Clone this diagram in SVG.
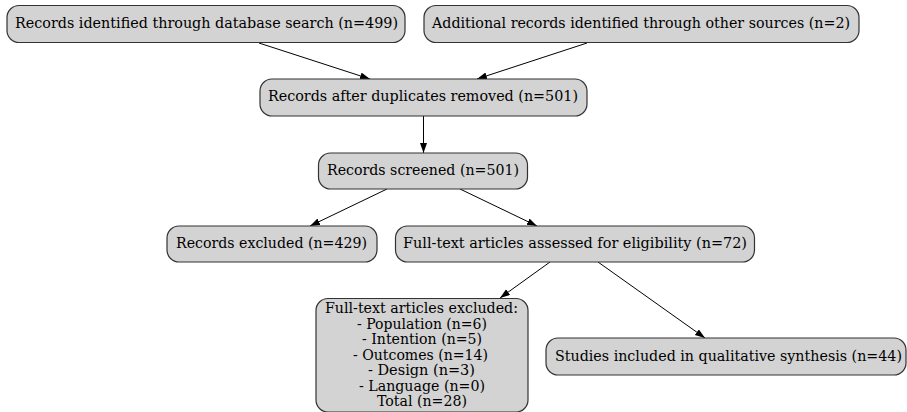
<svg xmlns="http://www.w3.org/2000/svg" width="907" height="412" viewBox="0 0 907 412">
<style>
.box{fill:#d3d3d3;stroke:#333;stroke-width:1.2}
.t{font-family:"DejaVu Serif","Liberation Serif",serif;font-size:14px;fill:#000;text-anchor:middle}
.e{stroke:#000;stroke-width:1;fill:none;marker-end:url(#ah)}
</style>
<defs>
<marker id="ah" markerUnits="userSpaceOnUse" markerWidth="11" markerHeight="8" refX="10" refY="3.5" orient="auto">
<path d="M0,0 L10,3.5 L0,7 Z" fill="#000"/>
</marker>
</defs>
<rect width="907" height="412" fill="#fff"/>
<g id="edges">
<line class="e" x1="259" y1="43" x2="370" y2="79"/>
<line class="e" x1="587" y1="43" x2="477" y2="79"/>
<line class="e" x1="423.5" y1="116" x2="423.5" y2="153"/>
<line class="e" x1="387" y1="189" x2="310" y2="226"/>
<line class="e" x1="460" y1="189" x2="537" y2="226"/>
<line class="e" x1="550" y1="262" x2="500" y2="298"/>
<line class="e" x1="598" y1="262" x2="705" y2="338"/>
</g>
<g id="n1"><rect class="box" x="7" y="5.5" width="398" height="37" rx="12"/><text class="t" x="206.5" y="28" textLength="383" lengthAdjust="spacingAndGlyphs">Records identified through database search (n=499)</text></g>
<g id="n2"><rect class="box" x="424" y="5.5" width="435" height="37" rx="12"/><text class="t" x="641" y="28" textLength="418" lengthAdjust="spacingAndGlyphs">Additional records identified through other sources (n=2)</text></g>
<g id="n3"><rect class="box" x="260" y="79" width="327" height="37" rx="12"/><text class="t" x="423" y="101" textLength="310" lengthAdjust="spacingAndGlyphs">Records after duplicates removed (n=501)</text></g>
<g id="n4"><rect class="box" x="318.5" y="153" width="209" height="36" rx="12"/><text class="t" x="423" y="175" textLength="192" lengthAdjust="spacingAndGlyphs">Records screened (n=501)</text></g>
<g id="n5"><rect class="box" x="167" y="226" width="210" height="36" rx="12"/><text class="t" x="271.5" y="248" textLength="191" lengthAdjust="spacingAndGlyphs">Records excluded (n=429)</text></g>
<g id="n6"><rect class="box" x="395.5" y="226" width="359" height="36" rx="12"/><text class="t" x="575" y="248" textLength="344" lengthAdjust="spacingAndGlyphs">Full-text articles assessed for eligibility (n=72)</text></g>
<g id="n7"><rect class="box" x="316" y="298.5" width="212" height="113.5" rx="12"/>
<text class="t" x="421.5" y="313" textLength="193" lengthAdjust="spacingAndGlyphs">Full-text articles excluded:</text>
<text class="t" x="422" y="328.5" textLength="130" lengthAdjust="spacingAndGlyphs">- Population (n=6)</text>
<text class="t" x="422" y="344" textLength="120" lengthAdjust="spacingAndGlyphs">- Intention (n=5)</text>
<text class="t" x="420.5" y="359.5" textLength="135" lengthAdjust="spacingAndGlyphs">- Outcomes (n=14)</text>
<text class="t" x="421.5" y="375" textLength="107" lengthAdjust="spacingAndGlyphs">- Design (n=3)</text>
<text class="t" x="422" y="390.5" textLength="126" lengthAdjust="spacingAndGlyphs">- Language (n=0)</text>
<text class="t" x="422" y="405.5" textLength="90" lengthAdjust="spacingAndGlyphs">Total (n=28)</text>
</g>
<g id="n8"><rect class="box" x="546" y="338" width="360" height="37" rx="12"/><text class="t" x="728.5" y="361" textLength="347" lengthAdjust="spacingAndGlyphs">Studies included in qualitative synthesis (n=44)</text></g>
</svg>
